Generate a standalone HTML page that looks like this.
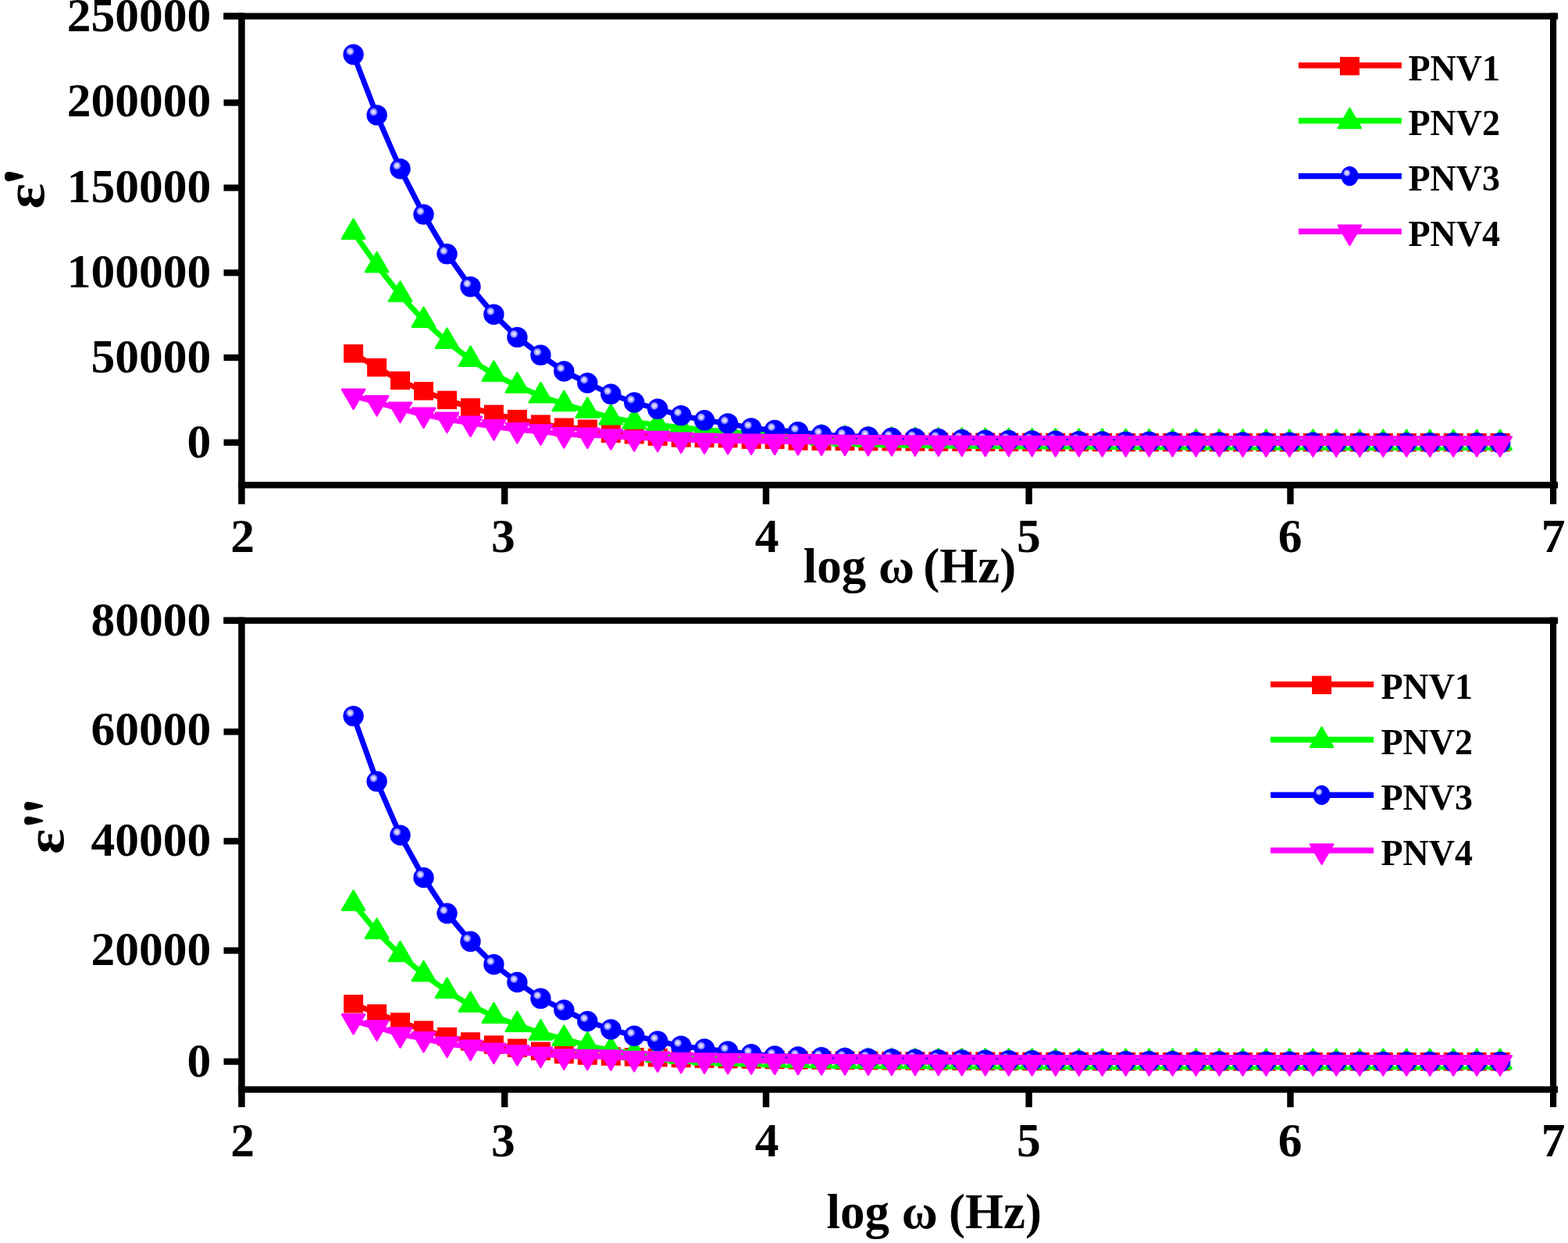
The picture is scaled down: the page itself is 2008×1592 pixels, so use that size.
<!DOCTYPE html>
<html><head><meta charset="utf-8"><title>Dielectric constant vs log frequency</title><style>html,body{margin:0;padding:0;background:#fff;overflow:hidden}svg{display:block}</style></head><body>
<svg width="2008" height="1592" viewBox="0 0 2008 1592" font-family="Liberation Serif, Times New Roman, serif" font-weight="bold" font-size="61.5">
<defs><radialGradient id="hl"><stop offset="0" stop-color="#ffffff"/><stop offset="0.25" stop-color="#d0d0ff"/><stop offset="0.6" stop-color="#9a9aff"/><stop offset="1" stop-color="#0000ff" stop-opacity="0"/></radialGradient></defs>
<rect width="2008" height="1592" fill="#ffffff"/>
<g><polyline points="452.6,452.8 482.6,470.6 512.5,487.4 542.5,500.9 572.5,512.4 602.5,521.9 632.4,530.4 662.4,536.6 692.4,543.1 722.3,547.3 752.3,549.3 782.3,555.4 812.2,556.8 842.2,559.1 872.2,561 902.1,561.4 932.1,561.6 962.1,563.1 992.1,563.2 1022,565 1052,565.2 1082,565.4 1111.9,565.6 1141.9,565.8 1171.9,565.9 1201.8,566 1231.8,566.1 1261.8,566.2 1291.8,566.3 1321.7,566.4 1351.7,566.4 1381.7,566.5 1411.6,566.5 1441.6,566.6 1471.6,566.6 1501.6,566.6 1531.5,566.6 1561.5,566.6 1591.5,566.6 1621.4,566.6 1651.4,566.6 1681.4,566.6 1711.3,566.6 1741.3,566.6 1771.3,566.6 1801.2,566.6 1831.2,566.6 1861.2,566.6 1891.2,566.6 1921.1,566.6" fill="none" stroke="#ff0000" stroke-width="7.0" stroke-linejoin="round"/><rect x="440.1" y="441.1" width="25" height="23.5" fill="#ff0000"/><rect x="470.1" y="458.9" width="25" height="23.5" fill="#ff0000"/><rect x="500" y="475.6" width="25" height="23.5" fill="#ff0000"/><rect x="530" y="489.1" width="25" height="23.5" fill="#ff0000"/><rect x="560" y="500.6" width="25" height="23.5" fill="#ff0000"/><rect x="590" y="510.1" width="25" height="23.5" fill="#ff0000"/><rect x="619.9" y="518.6" width="25" height="23.5" fill="#ff0000"/><rect x="649.9" y="524.9" width="25" height="23.5" fill="#ff0000"/><rect x="679.9" y="531.4" width="25" height="23.5" fill="#ff0000"/><rect x="709.8" y="535.5" width="25" height="23.5" fill="#ff0000"/><rect x="739.8" y="537.5" width="25" height="23.5" fill="#ff0000"/><rect x="769.8" y="543.6" width="25" height="23.5" fill="#ff0000"/><rect x="799.7" y="545" width="25" height="23.5" fill="#ff0000"/><rect x="829.7" y="547.4" width="25" height="23.5" fill="#ff0000"/><rect x="859.7" y="549.2" width="25" height="23.5" fill="#ff0000"/><rect x="889.6" y="549.6" width="25" height="23.5" fill="#ff0000"/><rect x="919.6" y="549.9" width="25" height="23.5" fill="#ff0000"/><rect x="949.6" y="551.4" width="25" height="23.5" fill="#ff0000"/><rect x="979.6" y="551.5" width="25" height="23.5" fill="#ff0000"/><rect x="1009.5" y="553.2" width="25" height="23.5" fill="#ff0000"/><rect x="1039.5" y="553.5" width="25" height="23.5" fill="#ff0000"/><rect x="1069.5" y="553.7" width="25" height="23.5" fill="#ff0000"/><rect x="1099.4" y="553.9" width="25" height="23.5" fill="#ff0000"/><rect x="1129.4" y="554" width="25" height="23.5" fill="#ff0000"/><rect x="1159.4" y="554.2" width="25" height="23.5" fill="#ff0000"/><rect x="1189.3" y="554.3" width="25" height="23.5" fill="#ff0000"/><rect x="1219.3" y="554.4" width="25" height="23.5" fill="#ff0000"/><rect x="1249.3" y="554.5" width="25" height="23.5" fill="#ff0000"/><rect x="1279.3" y="554.6" width="25" height="23.5" fill="#ff0000"/><rect x="1309.2" y="554.6" width="25" height="23.5" fill="#ff0000"/><rect x="1339.2" y="554.7" width="25" height="23.5" fill="#ff0000"/><rect x="1369.2" y="554.7" width="25" height="23.5" fill="#ff0000"/><rect x="1399.1" y="554.8" width="25" height="23.5" fill="#ff0000"/><rect x="1429.1" y="554.8" width="25" height="23.5" fill="#ff0000"/><rect x="1459.1" y="554.9" width="25" height="23.5" fill="#ff0000"/><rect x="1489.1" y="554.9" width="25" height="23.5" fill="#ff0000"/><rect x="1519" y="554.9" width="25" height="23.5" fill="#ff0000"/><rect x="1549" y="554.9" width="25" height="23.5" fill="#ff0000"/><rect x="1579" y="554.9" width="25" height="23.5" fill="#ff0000"/><rect x="1608.9" y="554.9" width="25" height="23.5" fill="#ff0000"/><rect x="1638.9" y="554.9" width="25" height="23.5" fill="#ff0000"/><rect x="1668.9" y="554.9" width="25" height="23.5" fill="#ff0000"/><rect x="1698.8" y="554.9" width="25" height="23.5" fill="#ff0000"/><rect x="1728.8" y="554.9" width="25" height="23.5" fill="#ff0000"/><rect x="1758.8" y="554.9" width="25" height="23.5" fill="#ff0000"/><rect x="1788.8" y="554.9" width="25" height="23.5" fill="#ff0000"/><rect x="1818.7" y="554.9" width="25" height="23.5" fill="#ff0000"/><rect x="1848.7" y="554.9" width="25" height="23.5" fill="#ff0000"/><rect x="1878.7" y="554.9" width="25" height="23.5" fill="#ff0000"/><rect x="1908.6" y="554.9" width="25" height="23.5" fill="#ff0000"/><polyline points="452.6,297.6 482.6,340 512.5,377.6 542.5,410.5 572.5,437.6 602.5,460.6 632.4,479.5 662.4,494.3 692.4,507.2 722.3,517.8 752.3,526.4 782.3,535 812.2,540.4 842.2,544.5 872.2,547.5 902.1,550.5 932.1,553 962.1,555.2 992.1,557.2 1022,559 1052,561 1082,562.5 1111.9,563.5 1141.9,564.2 1171.9,564.6 1201.8,565 1231.8,565.3 1261.8,565.6 1291.8,565.8 1321.7,566 1351.7,566.2 1381.7,566.4 1411.6,566.5 1441.6,566.7 1471.6,566.8 1501.6,566.9 1531.5,567 1561.5,567.1 1591.5,567.2 1621.4,567.3 1651.4,567.3 1681.4,567.4 1711.3,567.5 1741.3,567.5 1771.3,567.6 1801.2,567.6 1831.2,567.6 1861.2,567.7 1891.2,567.7 1921.1,567.7" fill="none" stroke="#00ff00" stroke-width="7.0" stroke-linejoin="round"/><path d="M452.6 280.6L467.3 305.8L437.9 305.8Z" fill="#00ff00" stroke="#00ff00" stroke-width="2.4" stroke-linejoin="round"/><path d="M482.6 323L497.3 348.2L467.9 348.2Z" fill="#00ff00" stroke="#00ff00" stroke-width="2.4" stroke-linejoin="round"/><path d="M512.5 360.6L527.2 385.8L497.8 385.8Z" fill="#00ff00" stroke="#00ff00" stroke-width="2.4" stroke-linejoin="round"/><path d="M542.5 393.5L557.2 418.7L527.8 418.7Z" fill="#00ff00" stroke="#00ff00" stroke-width="2.4" stroke-linejoin="round"/><path d="M572.5 420.6L587.2 445.8L557.8 445.8Z" fill="#00ff00" stroke="#00ff00" stroke-width="2.4" stroke-linejoin="round"/><path d="M602.5 443.6L617.2 468.8L587.8 468.8Z" fill="#00ff00" stroke="#00ff00" stroke-width="2.4" stroke-linejoin="round"/><path d="M632.4 462.5L647.1 487.7L617.7 487.7Z" fill="#00ff00" stroke="#00ff00" stroke-width="2.4" stroke-linejoin="round"/><path d="M662.4 477.3L677.1 502.5L647.7 502.5Z" fill="#00ff00" stroke="#00ff00" stroke-width="2.4" stroke-linejoin="round"/><path d="M692.4 490.2L707.1 515.4L677.7 515.4Z" fill="#00ff00" stroke="#00ff00" stroke-width="2.4" stroke-linejoin="round"/><path d="M722.3 500.8L737 526L707.6 526Z" fill="#00ff00" stroke="#00ff00" stroke-width="2.4" stroke-linejoin="round"/><path d="M752.3 509.4L767 534.6L737.6 534.6Z" fill="#00ff00" stroke="#00ff00" stroke-width="2.4" stroke-linejoin="round"/><path d="M782.3 518L797 543.2L767.6 543.2Z" fill="#00ff00" stroke="#00ff00" stroke-width="2.4" stroke-linejoin="round"/><path d="M812.2 523.4L826.9 548.6L797.5 548.6Z" fill="#00ff00" stroke="#00ff00" stroke-width="2.4" stroke-linejoin="round"/><path d="M842.2 527.5L856.9 552.7L827.5 552.7Z" fill="#00ff00" stroke="#00ff00" stroke-width="2.4" stroke-linejoin="round"/><path d="M872.2 530.5L886.9 555.7L857.5 555.7Z" fill="#00ff00" stroke="#00ff00" stroke-width="2.4" stroke-linejoin="round"/><path d="M902.1 533.5L916.9 558.7L887.4 558.7Z" fill="#00ff00" stroke="#00ff00" stroke-width="2.4" stroke-linejoin="round"/><path d="M932.1 536L946.8 561.2L917.4 561.2Z" fill="#00ff00" stroke="#00ff00" stroke-width="2.4" stroke-linejoin="round"/><path d="M962.1 538.2L976.8 563.4L947.4 563.4Z" fill="#00ff00" stroke="#00ff00" stroke-width="2.4" stroke-linejoin="round"/><path d="M992.1 540.2L1006.8 565.4L977.4 565.4Z" fill="#00ff00" stroke="#00ff00" stroke-width="2.4" stroke-linejoin="round"/><path d="M1022 542L1036.7 567.2L1007.3 567.2Z" fill="#00ff00" stroke="#00ff00" stroke-width="2.4" stroke-linejoin="round"/><path d="M1052 544L1066.7 569.2L1037.3 569.2Z" fill="#00ff00" stroke="#00ff00" stroke-width="2.4" stroke-linejoin="round"/><path d="M1082 545.5L1096.7 570.7L1067.3 570.7Z" fill="#00ff00" stroke="#00ff00" stroke-width="2.4" stroke-linejoin="round"/><path d="M1111.9 546.5L1126.6 571.7L1097.2 571.7Z" fill="#00ff00" stroke="#00ff00" stroke-width="2.4" stroke-linejoin="round"/><path d="M1141.9 547.2L1156.6 572.4L1127.2 572.4Z" fill="#00ff00" stroke="#00ff00" stroke-width="2.4" stroke-linejoin="round"/><path d="M1171.9 547.6L1186.6 572.8L1157.2 572.8Z" fill="#00ff00" stroke="#00ff00" stroke-width="2.4" stroke-linejoin="round"/><path d="M1201.8 548L1216.5 573.2L1187.1 573.2Z" fill="#00ff00" stroke="#00ff00" stroke-width="2.4" stroke-linejoin="round"/><path d="M1231.8 548.3L1246.5 573.5L1217.1 573.5Z" fill="#00ff00" stroke="#00ff00" stroke-width="2.4" stroke-linejoin="round"/><path d="M1261.8 548.6L1276.5 573.8L1247.1 573.8Z" fill="#00ff00" stroke="#00ff00" stroke-width="2.4" stroke-linejoin="round"/><path d="M1291.8 548.8L1306.5 574L1277.1 574Z" fill="#00ff00" stroke="#00ff00" stroke-width="2.4" stroke-linejoin="round"/><path d="M1321.7 549L1336.4 574.2L1307 574.2Z" fill="#00ff00" stroke="#00ff00" stroke-width="2.4" stroke-linejoin="round"/><path d="M1351.7 549.2L1366.4 574.4L1337 574.4Z" fill="#00ff00" stroke="#00ff00" stroke-width="2.4" stroke-linejoin="round"/><path d="M1381.7 549.4L1396.4 574.6L1367 574.6Z" fill="#00ff00" stroke="#00ff00" stroke-width="2.4" stroke-linejoin="round"/><path d="M1411.6 549.5L1426.3 574.7L1396.9 574.7Z" fill="#00ff00" stroke="#00ff00" stroke-width="2.4" stroke-linejoin="round"/><path d="M1441.6 549.7L1456.3 574.9L1426.9 574.9Z" fill="#00ff00" stroke="#00ff00" stroke-width="2.4" stroke-linejoin="round"/><path d="M1471.6 549.8L1486.3 575L1456.9 575Z" fill="#00ff00" stroke="#00ff00" stroke-width="2.4" stroke-linejoin="round"/><path d="M1501.6 549.9L1516.3 575.1L1486.9 575.1Z" fill="#00ff00" stroke="#00ff00" stroke-width="2.4" stroke-linejoin="round"/><path d="M1531.5 550L1546.2 575.2L1516.8 575.2Z" fill="#00ff00" stroke="#00ff00" stroke-width="2.4" stroke-linejoin="round"/><path d="M1561.5 550.1L1576.2 575.3L1546.8 575.3Z" fill="#00ff00" stroke="#00ff00" stroke-width="2.4" stroke-linejoin="round"/><path d="M1591.5 550.2L1606.2 575.4L1576.8 575.4Z" fill="#00ff00" stroke="#00ff00" stroke-width="2.4" stroke-linejoin="round"/><path d="M1621.4 550.3L1636.1 575.5L1606.7 575.5Z" fill="#00ff00" stroke="#00ff00" stroke-width="2.4" stroke-linejoin="round"/><path d="M1651.4 550.3L1666.1 575.5L1636.7 575.5Z" fill="#00ff00" stroke="#00ff00" stroke-width="2.4" stroke-linejoin="round"/><path d="M1681.4 550.4L1696.1 575.6L1666.7 575.6Z" fill="#00ff00" stroke="#00ff00" stroke-width="2.4" stroke-linejoin="round"/><path d="M1711.3 550.5L1726 575.7L1696.6 575.7Z" fill="#00ff00" stroke="#00ff00" stroke-width="2.4" stroke-linejoin="round"/><path d="M1741.3 550.5L1756 575.7L1726.6 575.7Z" fill="#00ff00" stroke="#00ff00" stroke-width="2.4" stroke-linejoin="round"/><path d="M1771.3 550.6L1786 575.8L1756.6 575.8Z" fill="#00ff00" stroke="#00ff00" stroke-width="2.4" stroke-linejoin="round"/><path d="M1801.2 550.6L1816 575.8L1786.5 575.8Z" fill="#00ff00" stroke="#00ff00" stroke-width="2.4" stroke-linejoin="round"/><path d="M1831.2 550.6L1845.9 575.8L1816.5 575.8Z" fill="#00ff00" stroke="#00ff00" stroke-width="2.4" stroke-linejoin="round"/><path d="M1861.2 550.7L1875.9 575.9L1846.5 575.9Z" fill="#00ff00" stroke="#00ff00" stroke-width="2.4" stroke-linejoin="round"/><path d="M1891.2 550.7L1905.9 575.9L1876.5 575.9Z" fill="#00ff00" stroke="#00ff00" stroke-width="2.4" stroke-linejoin="round"/><path d="M1921.1 550.7L1935.8 575.9L1906.4 575.9Z" fill="#00ff00" stroke="#00ff00" stroke-width="2.4" stroke-linejoin="round"/><polyline points="452.6,69.8 482.6,147.4 512.5,216.2 542.5,274.6 572.5,325.3 602.5,367.2 632.4,402.7 662.4,431.9 692.4,454.8 722.3,475.5 752.3,490.5 782.3,504.8 812.2,515.5 842.2,523.8 872.2,532.1 902.1,538.3 932.1,542.4 962.1,548.4 992.1,550.9 1022,553.1 1052,557 1082,558.6 1111.9,559.4 1141.9,560.8 1171.9,561.4 1201.8,562 1231.8,563 1261.8,563.6 1291.8,564 1321.7,564.4 1351.7,564.8 1381.7,565.1 1411.6,565.4 1441.6,565.6 1471.6,565.8 1501.6,566 1531.5,566.2 1561.5,566.4 1591.5,566.5 1621.4,566.6 1651.4,566.7 1681.4,566.8 1711.3,566.9 1741.3,567 1771.3,567.1 1801.2,567.1 1831.2,567.2 1861.2,567.2 1891.2,567.3 1921.1,567.3" fill="none" stroke="#0000ff" stroke-width="7.0" stroke-linejoin="round"/><circle cx="452.6" cy="69.8" r="13.2" fill="#0000ff"/><circle cx="448.4" cy="65.8" r="6.3" fill="url(#hl)"/><circle cx="482.6" cy="147.4" r="13.2" fill="#0000ff"/><circle cx="478.4" cy="143.4" r="6.3" fill="url(#hl)"/><circle cx="512.5" cy="216.2" r="13.2" fill="#0000ff"/><circle cx="508.3" cy="212.2" r="6.3" fill="url(#hl)"/><circle cx="542.5" cy="274.6" r="13.2" fill="#0000ff"/><circle cx="538.3" cy="270.6" r="6.3" fill="url(#hl)"/><circle cx="572.5" cy="325.3" r="13.2" fill="#0000ff"/><circle cx="568.3" cy="321.3" r="6.3" fill="url(#hl)"/><circle cx="602.5" cy="367.2" r="13.2" fill="#0000ff"/><circle cx="598.2" cy="363.2" r="6.3" fill="url(#hl)"/><circle cx="632.4" cy="402.7" r="13.2" fill="#0000ff"/><circle cx="628.2" cy="398.7" r="6.3" fill="url(#hl)"/><circle cx="662.4" cy="431.9" r="13.2" fill="#0000ff"/><circle cx="658.2" cy="427.9" r="6.3" fill="url(#hl)"/><circle cx="692.4" cy="454.8" r="13.2" fill="#0000ff"/><circle cx="688.2" cy="450.8" r="6.3" fill="url(#hl)"/><circle cx="722.3" cy="475.5" r="13.2" fill="#0000ff"/><circle cx="718.1" cy="471.5" r="6.3" fill="url(#hl)"/><circle cx="752.3" cy="490.5" r="13.2" fill="#0000ff"/><circle cx="748.1" cy="486.5" r="6.3" fill="url(#hl)"/><circle cx="782.3" cy="504.8" r="13.2" fill="#0000ff"/><circle cx="778.1" cy="500.8" r="6.3" fill="url(#hl)"/><circle cx="812.2" cy="515.5" r="13.2" fill="#0000ff"/><circle cx="808" cy="511.5" r="6.3" fill="url(#hl)"/><circle cx="842.2" cy="523.8" r="13.2" fill="#0000ff"/><circle cx="838" cy="519.8" r="6.3" fill="url(#hl)"/><circle cx="872.2" cy="532.1" r="13.2" fill="#0000ff"/><circle cx="868" cy="528.1" r="6.3" fill="url(#hl)"/><circle cx="902.1" cy="538.3" r="13.2" fill="#0000ff"/><circle cx="897.9" cy="534.3" r="6.3" fill="url(#hl)"/><circle cx="932.1" cy="542.4" r="13.2" fill="#0000ff"/><circle cx="927.9" cy="538.4" r="6.3" fill="url(#hl)"/><circle cx="962.1" cy="548.4" r="13.2" fill="#0000ff"/><circle cx="957.9" cy="544.4" r="6.3" fill="url(#hl)"/><circle cx="992.1" cy="550.9" r="13.2" fill="#0000ff"/><circle cx="987.9" cy="546.9" r="6.3" fill="url(#hl)"/><circle cx="1022" cy="553.1" r="13.2" fill="#0000ff"/><circle cx="1017.8" cy="549.1" r="6.3" fill="url(#hl)"/><circle cx="1052" cy="557" r="13.2" fill="#0000ff"/><circle cx="1047.8" cy="553" r="6.3" fill="url(#hl)"/><circle cx="1082" cy="558.6" r="13.2" fill="#0000ff"/><circle cx="1077.8" cy="554.6" r="6.3" fill="url(#hl)"/><circle cx="1111.9" cy="559.4" r="13.2" fill="#0000ff"/><circle cx="1107.7" cy="555.4" r="6.3" fill="url(#hl)"/><circle cx="1141.9" cy="560.8" r="13.2" fill="#0000ff"/><circle cx="1137.7" cy="556.8" r="6.3" fill="url(#hl)"/><circle cx="1171.9" cy="561.4" r="13.2" fill="#0000ff"/><circle cx="1167.7" cy="557.4" r="6.3" fill="url(#hl)"/><circle cx="1201.8" cy="562" r="13.2" fill="#0000ff"/><circle cx="1197.6" cy="558" r="6.3" fill="url(#hl)"/><circle cx="1231.8" cy="563" r="13.2" fill="#0000ff"/><circle cx="1227.6" cy="559" r="6.3" fill="url(#hl)"/><circle cx="1261.8" cy="563.6" r="13.2" fill="#0000ff"/><circle cx="1257.6" cy="559.6" r="6.3" fill="url(#hl)"/><circle cx="1291.8" cy="564" r="13.2" fill="#0000ff"/><circle cx="1287.6" cy="560" r="6.3" fill="url(#hl)"/><circle cx="1321.7" cy="564.4" r="13.2" fill="#0000ff"/><circle cx="1317.5" cy="560.4" r="6.3" fill="url(#hl)"/><circle cx="1351.7" cy="564.8" r="13.2" fill="#0000ff"/><circle cx="1347.5" cy="560.8" r="6.3" fill="url(#hl)"/><circle cx="1381.7" cy="565.1" r="13.2" fill="#0000ff"/><circle cx="1377.5" cy="561.1" r="6.3" fill="url(#hl)"/><circle cx="1411.6" cy="565.4" r="13.2" fill="#0000ff"/><circle cx="1407.4" cy="561.4" r="6.3" fill="url(#hl)"/><circle cx="1441.6" cy="565.6" r="13.2" fill="#0000ff"/><circle cx="1437.4" cy="561.6" r="6.3" fill="url(#hl)"/><circle cx="1471.6" cy="565.8" r="13.2" fill="#0000ff"/><circle cx="1467.4" cy="561.8" r="6.3" fill="url(#hl)"/><circle cx="1501.6" cy="566" r="13.2" fill="#0000ff"/><circle cx="1497.4" cy="562" r="6.3" fill="url(#hl)"/><circle cx="1531.5" cy="566.2" r="13.2" fill="#0000ff"/><circle cx="1527.3" cy="562.2" r="6.3" fill="url(#hl)"/><circle cx="1561.5" cy="566.4" r="13.2" fill="#0000ff"/><circle cx="1557.3" cy="562.4" r="6.3" fill="url(#hl)"/><circle cx="1591.5" cy="566.5" r="13.2" fill="#0000ff"/><circle cx="1587.3" cy="562.5" r="6.3" fill="url(#hl)"/><circle cx="1621.4" cy="566.6" r="13.2" fill="#0000ff"/><circle cx="1617.2" cy="562.6" r="6.3" fill="url(#hl)"/><circle cx="1651.4" cy="566.7" r="13.2" fill="#0000ff"/><circle cx="1647.2" cy="562.7" r="6.3" fill="url(#hl)"/><circle cx="1681.4" cy="566.8" r="13.2" fill="#0000ff"/><circle cx="1677.2" cy="562.8" r="6.3" fill="url(#hl)"/><circle cx="1711.3" cy="566.9" r="13.2" fill="#0000ff"/><circle cx="1707.1" cy="562.9" r="6.3" fill="url(#hl)"/><circle cx="1741.3" cy="567" r="13.2" fill="#0000ff"/><circle cx="1737.1" cy="563" r="6.3" fill="url(#hl)"/><circle cx="1771.3" cy="567.1" r="13.2" fill="#0000ff"/><circle cx="1767.1" cy="563.1" r="6.3" fill="url(#hl)"/><circle cx="1801.2" cy="567.1" r="13.2" fill="#0000ff"/><circle cx="1797" cy="563.1" r="6.3" fill="url(#hl)"/><circle cx="1831.2" cy="567.2" r="13.2" fill="#0000ff"/><circle cx="1827" cy="563.2" r="6.3" fill="url(#hl)"/><circle cx="1861.2" cy="567.2" r="13.2" fill="#0000ff"/><circle cx="1857" cy="563.2" r="6.3" fill="url(#hl)"/><circle cx="1891.2" cy="567.3" r="13.2" fill="#0000ff"/><circle cx="1887" cy="563.3" r="6.3" fill="url(#hl)"/><circle cx="1921.1" cy="567.3" r="13.2" fill="#0000ff"/><circle cx="1916.9" cy="563.3" r="6.3" fill="url(#hl)"/><polyline points="452.6,506.9 482.6,515.5 512.5,523.9 542.5,530.8 572.5,537 602.5,541.9 632.4,546.4 662.4,550.4 692.4,552.6 722.3,556.4 752.3,556.9 782.3,558.6 812.2,560.6 842.2,561.2 872.2,563 902.1,564 932.1,564.5 962.1,564.8 992.1,565.2 1022,565.5 1052,565.9 1082,566.1 1111.9,566.3 1141.9,566.5 1171.9,566.7 1201.8,566.8 1231.8,566.9 1261.8,567.1 1291.8,567.1 1321.7,567.2 1351.7,567.3 1381.7,567.3 1411.6,567.4 1441.6,567.4 1471.6,567.5 1501.6,567.5 1531.5,567.5 1561.5,567.5 1591.5,567.6 1621.4,567.6 1651.4,567.6 1681.4,567.6 1711.3,567.6 1741.3,567.6 1771.3,567.6 1801.2,567.6 1831.2,567.6 1861.2,567.6 1891.2,567.6 1921.1,567.6" fill="none" stroke="#ff00ff" stroke-width="7.0" stroke-linejoin="round"/><path d="M452.6 523.9L467.3 498.7L437.9 498.7Z" fill="#ff00ff" stroke="#ff00ff" stroke-width="2.4" stroke-linejoin="round"/><path d="M482.6 532.5L497.3 507.3L467.9 507.3Z" fill="#ff00ff" stroke="#ff00ff" stroke-width="2.4" stroke-linejoin="round"/><path d="M512.5 540.9L527.2 515.7L497.8 515.7Z" fill="#ff00ff" stroke="#ff00ff" stroke-width="2.4" stroke-linejoin="round"/><path d="M542.5 547.8L557.2 522.6L527.8 522.6Z" fill="#ff00ff" stroke="#ff00ff" stroke-width="2.4" stroke-linejoin="round"/><path d="M572.5 554L587.2 528.8L557.8 528.8Z" fill="#ff00ff" stroke="#ff00ff" stroke-width="2.4" stroke-linejoin="round"/><path d="M602.5 558.9L617.2 533.7L587.8 533.7Z" fill="#ff00ff" stroke="#ff00ff" stroke-width="2.4" stroke-linejoin="round"/><path d="M632.4 563.4L647.1 538.2L617.7 538.2Z" fill="#ff00ff" stroke="#ff00ff" stroke-width="2.4" stroke-linejoin="round"/><path d="M662.4 567.4L677.1 542.2L647.7 542.2Z" fill="#ff00ff" stroke="#ff00ff" stroke-width="2.4" stroke-linejoin="round"/><path d="M692.4 569.6L707.1 544.4L677.7 544.4Z" fill="#ff00ff" stroke="#ff00ff" stroke-width="2.4" stroke-linejoin="round"/><path d="M722.3 573.4L737 548.2L707.6 548.2Z" fill="#ff00ff" stroke="#ff00ff" stroke-width="2.4" stroke-linejoin="round"/><path d="M752.3 573.9L767 548.7L737.6 548.7Z" fill="#ff00ff" stroke="#ff00ff" stroke-width="2.4" stroke-linejoin="round"/><path d="M782.3 575.6L797 550.4L767.6 550.4Z" fill="#ff00ff" stroke="#ff00ff" stroke-width="2.4" stroke-linejoin="round"/><path d="M812.2 577.6L826.9 552.4L797.5 552.4Z" fill="#ff00ff" stroke="#ff00ff" stroke-width="2.4" stroke-linejoin="round"/><path d="M842.2 578.2L856.9 553L827.5 553Z" fill="#ff00ff" stroke="#ff00ff" stroke-width="2.4" stroke-linejoin="round"/><path d="M872.2 580L886.9 554.8L857.5 554.8Z" fill="#ff00ff" stroke="#ff00ff" stroke-width="2.4" stroke-linejoin="round"/><path d="M902.1 581L916.9 555.8L887.4 555.8Z" fill="#ff00ff" stroke="#ff00ff" stroke-width="2.4" stroke-linejoin="round"/><path d="M932.1 581.5L946.8 556.3L917.4 556.3Z" fill="#ff00ff" stroke="#ff00ff" stroke-width="2.4" stroke-linejoin="round"/><path d="M962.1 581.8L976.8 556.6L947.4 556.6Z" fill="#ff00ff" stroke="#ff00ff" stroke-width="2.4" stroke-linejoin="round"/><path d="M992.1 582.2L1006.8 557L977.4 557Z" fill="#ff00ff" stroke="#ff00ff" stroke-width="2.4" stroke-linejoin="round"/><path d="M1022 582.5L1036.7 557.3L1007.3 557.3Z" fill="#ff00ff" stroke="#ff00ff" stroke-width="2.4" stroke-linejoin="round"/><path d="M1052 582.9L1066.7 557.7L1037.3 557.7Z" fill="#ff00ff" stroke="#ff00ff" stroke-width="2.4" stroke-linejoin="round"/><path d="M1082 583.1L1096.7 557.9L1067.3 557.9Z" fill="#ff00ff" stroke="#ff00ff" stroke-width="2.4" stroke-linejoin="round"/><path d="M1111.9 583.3L1126.6 558.1L1097.2 558.1Z" fill="#ff00ff" stroke="#ff00ff" stroke-width="2.4" stroke-linejoin="round"/><path d="M1141.9 583.5L1156.6 558.3L1127.2 558.3Z" fill="#ff00ff" stroke="#ff00ff" stroke-width="2.4" stroke-linejoin="round"/><path d="M1171.9 583.7L1186.6 558.5L1157.2 558.5Z" fill="#ff00ff" stroke="#ff00ff" stroke-width="2.4" stroke-linejoin="round"/><path d="M1201.8 583.8L1216.5 558.6L1187.1 558.6Z" fill="#ff00ff" stroke="#ff00ff" stroke-width="2.4" stroke-linejoin="round"/><path d="M1231.8 583.9L1246.5 558.7L1217.1 558.7Z" fill="#ff00ff" stroke="#ff00ff" stroke-width="2.4" stroke-linejoin="round"/><path d="M1261.8 584.1L1276.5 558.9L1247.1 558.9Z" fill="#ff00ff" stroke="#ff00ff" stroke-width="2.4" stroke-linejoin="round"/><path d="M1291.8 584.1L1306.5 558.9L1277.1 558.9Z" fill="#ff00ff" stroke="#ff00ff" stroke-width="2.4" stroke-linejoin="round"/><path d="M1321.7 584.2L1336.4 559L1307 559Z" fill="#ff00ff" stroke="#ff00ff" stroke-width="2.4" stroke-linejoin="round"/><path d="M1351.7 584.3L1366.4 559.1L1337 559.1Z" fill="#ff00ff" stroke="#ff00ff" stroke-width="2.4" stroke-linejoin="round"/><path d="M1381.7 584.3L1396.4 559.1L1367 559.1Z" fill="#ff00ff" stroke="#ff00ff" stroke-width="2.4" stroke-linejoin="round"/><path d="M1411.6 584.4L1426.3 559.2L1396.9 559.2Z" fill="#ff00ff" stroke="#ff00ff" stroke-width="2.4" stroke-linejoin="round"/><path d="M1441.6 584.4L1456.3 559.2L1426.9 559.2Z" fill="#ff00ff" stroke="#ff00ff" stroke-width="2.4" stroke-linejoin="round"/><path d="M1471.6 584.5L1486.3 559.3L1456.9 559.3Z" fill="#ff00ff" stroke="#ff00ff" stroke-width="2.4" stroke-linejoin="round"/><path d="M1501.6 584.5L1516.3 559.3L1486.9 559.3Z" fill="#ff00ff" stroke="#ff00ff" stroke-width="2.4" stroke-linejoin="round"/><path d="M1531.5 584.5L1546.2 559.3L1516.8 559.3Z" fill="#ff00ff" stroke="#ff00ff" stroke-width="2.4" stroke-linejoin="round"/><path d="M1561.5 584.5L1576.2 559.3L1546.8 559.3Z" fill="#ff00ff" stroke="#ff00ff" stroke-width="2.4" stroke-linejoin="round"/><path d="M1591.5 584.6L1606.2 559.4L1576.8 559.4Z" fill="#ff00ff" stroke="#ff00ff" stroke-width="2.4" stroke-linejoin="round"/><path d="M1621.4 584.6L1636.1 559.4L1606.7 559.4Z" fill="#ff00ff" stroke="#ff00ff" stroke-width="2.4" stroke-linejoin="round"/><path d="M1651.4 584.6L1666.1 559.4L1636.7 559.4Z" fill="#ff00ff" stroke="#ff00ff" stroke-width="2.4" stroke-linejoin="round"/><path d="M1681.4 584.6L1696.1 559.4L1666.7 559.4Z" fill="#ff00ff" stroke="#ff00ff" stroke-width="2.4" stroke-linejoin="round"/><path d="M1711.3 584.6L1726 559.4L1696.6 559.4Z" fill="#ff00ff" stroke="#ff00ff" stroke-width="2.4" stroke-linejoin="round"/><path d="M1741.3 584.6L1756 559.4L1726.6 559.4Z" fill="#ff00ff" stroke="#ff00ff" stroke-width="2.4" stroke-linejoin="round"/><path d="M1771.3 584.6L1786 559.4L1756.6 559.4Z" fill="#ff00ff" stroke="#ff00ff" stroke-width="2.4" stroke-linejoin="round"/><path d="M1801.2 584.6L1816 559.4L1786.5 559.4Z" fill="#ff00ff" stroke="#ff00ff" stroke-width="2.4" stroke-linejoin="round"/><path d="M1831.2 584.6L1845.9 559.4L1816.5 559.4Z" fill="#ff00ff" stroke="#ff00ff" stroke-width="2.4" stroke-linejoin="round"/><path d="M1861.2 584.6L1875.9 559.4L1846.5 559.4Z" fill="#ff00ff" stroke="#ff00ff" stroke-width="2.4" stroke-linejoin="round"/><path d="M1891.2 584.6L1905.9 559.4L1876.5 559.4Z" fill="#ff00ff" stroke="#ff00ff" stroke-width="2.4" stroke-linejoin="round"/><path d="M1921.1 584.6L1935.8 559.4L1906.4 559.4Z" fill="#ff00ff" stroke="#ff00ff" stroke-width="2.4" stroke-linejoin="round"/></g>
<g><polyline points="452.6,1285.8 482.6,1298.1 512.5,1308.7 542.5,1319.3 572.5,1327.5 602.5,1334 632.4,1338.1 662.4,1342.2 692.4,1346.3 722.3,1350.5 752.3,1352.1 782.3,1353 812.2,1353.9 842.2,1354.7 872.2,1355.4 902.1,1356 932.1,1356.5 962.1,1357 992.1,1357.4 1022,1357.7 1052,1358 1082,1358.3 1111.9,1358.5 1141.9,1358.7 1171.9,1358.8 1201.8,1359 1231.8,1359.1 1261.8,1359.2 1291.8,1359.3 1321.7,1359.3 1351.7,1359.4 1381.7,1359.5 1411.6,1359.5 1441.6,1359.5 1471.6,1359.6 1501.6,1359.6 1531.5,1359.6 1561.5,1359.6 1591.5,1359.6 1621.4,1359.6 1651.4,1359.6 1681.4,1359.6 1711.3,1359.6 1741.3,1359.6 1771.3,1359.6 1801.2,1359.6 1831.2,1359.6 1861.2,1359.6 1891.2,1359.6 1921.1,1359.6" fill="none" stroke="#ff0000" stroke-width="7.0" stroke-linejoin="round"/><rect x="440.1" y="1274" width="25" height="23.5" fill="#ff0000"/><rect x="470.1" y="1286.3" width="25" height="23.5" fill="#ff0000"/><rect x="500" y="1297" width="25" height="23.5" fill="#ff0000"/><rect x="530" y="1307.5" width="25" height="23.5" fill="#ff0000"/><rect x="560" y="1315.8" width="25" height="23.5" fill="#ff0000"/><rect x="590" y="1322.2" width="25" height="23.5" fill="#ff0000"/><rect x="619.9" y="1326.3" width="25" height="23.5" fill="#ff0000"/><rect x="649.9" y="1330.5" width="25" height="23.5" fill="#ff0000"/><rect x="679.9" y="1334.5" width="25" height="23.5" fill="#ff0000"/><rect x="709.8" y="1338.8" width="25" height="23.5" fill="#ff0000"/><rect x="739.8" y="1340.3" width="25" height="23.5" fill="#ff0000"/><rect x="769.8" y="1341.3" width="25" height="23.5" fill="#ff0000"/><rect x="799.7" y="1342.1" width="25" height="23.5" fill="#ff0000"/><rect x="829.7" y="1342.9" width="25" height="23.5" fill="#ff0000"/><rect x="859.7" y="1343.7" width="25" height="23.5" fill="#ff0000"/><rect x="889.6" y="1344.3" width="25" height="23.5" fill="#ff0000"/><rect x="919.6" y="1344.8" width="25" height="23.5" fill="#ff0000"/><rect x="949.6" y="1345.2" width="25" height="23.5" fill="#ff0000"/><rect x="979.6" y="1345.6" width="25" height="23.5" fill="#ff0000"/><rect x="1009.5" y="1346" width="25" height="23.5" fill="#ff0000"/><rect x="1039.5" y="1346.3" width="25" height="23.5" fill="#ff0000"/><rect x="1069.5" y="1346.5" width="25" height="23.5" fill="#ff0000"/><rect x="1099.4" y="1346.7" width="25" height="23.5" fill="#ff0000"/><rect x="1129.4" y="1346.9" width="25" height="23.5" fill="#ff0000"/><rect x="1159.4" y="1347.1" width="25" height="23.5" fill="#ff0000"/><rect x="1189.3" y="1347.2" width="25" height="23.5" fill="#ff0000"/><rect x="1219.3" y="1347.3" width="25" height="23.5" fill="#ff0000"/><rect x="1249.3" y="1347.4" width="25" height="23.5" fill="#ff0000"/><rect x="1279.3" y="1347.5" width="25" height="23.5" fill="#ff0000"/><rect x="1309.2" y="1347.6" width="25" height="23.5" fill="#ff0000"/><rect x="1339.2" y="1347.7" width="25" height="23.5" fill="#ff0000"/><rect x="1369.2" y="1347.7" width="25" height="23.5" fill="#ff0000"/><rect x="1399.1" y="1347.8" width="25" height="23.5" fill="#ff0000"/><rect x="1429.1" y="1347.8" width="25" height="23.5" fill="#ff0000"/><rect x="1459.1" y="1347.8" width="25" height="23.5" fill="#ff0000"/><rect x="1489.1" y="1347.9" width="25" height="23.5" fill="#ff0000"/><rect x="1519" y="1347.9" width="25" height="23.5" fill="#ff0000"/><rect x="1549" y="1347.9" width="25" height="23.5" fill="#ff0000"/><rect x="1579" y="1347.9" width="25" height="23.5" fill="#ff0000"/><rect x="1608.9" y="1347.9" width="25" height="23.5" fill="#ff0000"/><rect x="1638.9" y="1347.9" width="25" height="23.5" fill="#ff0000"/><rect x="1668.9" y="1347.9" width="25" height="23.5" fill="#ff0000"/><rect x="1698.8" y="1347.9" width="25" height="23.5" fill="#ff0000"/><rect x="1728.8" y="1347.9" width="25" height="23.5" fill="#ff0000"/><rect x="1758.8" y="1347.9" width="25" height="23.5" fill="#ff0000"/><rect x="1788.8" y="1347.9" width="25" height="23.5" fill="#ff0000"/><rect x="1818.7" y="1347.9" width="25" height="23.5" fill="#ff0000"/><rect x="1848.7" y="1347.9" width="25" height="23.5" fill="#ff0000"/><rect x="1878.7" y="1347.9" width="25" height="23.5" fill="#ff0000"/><rect x="1908.6" y="1347.9" width="25" height="23.5" fill="#ff0000"/><polyline points="452.6,1157.6 482.6,1193.5 512.5,1222.9 542.5,1248 572.5,1269.7 602.5,1287.4 632.4,1301.6 662.4,1312.7 692.4,1323.3 722.3,1330.5 752.3,1339 782.3,1345.5 812.2,1349 842.2,1351.5 872.2,1353.5 902.1,1355 932.1,1356.3 962.1,1357.2 992.1,1358 1022,1358.6 1052,1359.1 1082,1359.5 1111.9,1359.7 1141.9,1359.8 1171.9,1359.9 1201.8,1360.1 1231.8,1360.2 1261.8,1360.2 1291.8,1360.3 1321.7,1360.4 1351.7,1360.4 1381.7,1360.5 1411.6,1360.5 1441.6,1360.6 1471.6,1360.6 1501.6,1360.6 1531.5,1360.6 1561.5,1360.6 1591.5,1360.6 1621.4,1360.6 1651.4,1360.6 1681.4,1360.6 1711.3,1360.6 1741.3,1360.6 1771.3,1360.6 1801.2,1360.6 1831.2,1360.6 1861.2,1360.6 1891.2,1360.6 1921.1,1360.6" fill="none" stroke="#00ff00" stroke-width="7.0" stroke-linejoin="round"/><path d="M452.6 1140.6L467.3 1165.8L437.9 1165.8Z" fill="#00ff00" stroke="#00ff00" stroke-width="2.4" stroke-linejoin="round"/><path d="M482.6 1176.5L497.3 1201.7L467.9 1201.7Z" fill="#00ff00" stroke="#00ff00" stroke-width="2.4" stroke-linejoin="round"/><path d="M512.5 1205.9L527.2 1231.1L497.8 1231.1Z" fill="#00ff00" stroke="#00ff00" stroke-width="2.4" stroke-linejoin="round"/><path d="M542.5 1231L557.2 1256.2L527.8 1256.2Z" fill="#00ff00" stroke="#00ff00" stroke-width="2.4" stroke-linejoin="round"/><path d="M572.5 1252.7L587.2 1277.9L557.8 1277.9Z" fill="#00ff00" stroke="#00ff00" stroke-width="2.4" stroke-linejoin="round"/><path d="M602.5 1270.4L617.2 1295.6L587.8 1295.6Z" fill="#00ff00" stroke="#00ff00" stroke-width="2.4" stroke-linejoin="round"/><path d="M632.4 1284.6L647.1 1309.8L617.7 1309.8Z" fill="#00ff00" stroke="#00ff00" stroke-width="2.4" stroke-linejoin="round"/><path d="M662.4 1295.7L677.1 1320.9L647.7 1320.9Z" fill="#00ff00" stroke="#00ff00" stroke-width="2.4" stroke-linejoin="round"/><path d="M692.4 1306.3L707.1 1331.5L677.7 1331.5Z" fill="#00ff00" stroke="#00ff00" stroke-width="2.4" stroke-linejoin="round"/><path d="M722.3 1313.5L737 1338.7L707.6 1338.7Z" fill="#00ff00" stroke="#00ff00" stroke-width="2.4" stroke-linejoin="round"/><path d="M752.3 1322L767 1347.2L737.6 1347.2Z" fill="#00ff00" stroke="#00ff00" stroke-width="2.4" stroke-linejoin="round"/><path d="M782.3 1328.5L797 1353.7L767.6 1353.7Z" fill="#00ff00" stroke="#00ff00" stroke-width="2.4" stroke-linejoin="round"/><path d="M812.2 1332L826.9 1357.2L797.5 1357.2Z" fill="#00ff00" stroke="#00ff00" stroke-width="2.4" stroke-linejoin="round"/><path d="M842.2 1334.5L856.9 1359.7L827.5 1359.7Z" fill="#00ff00" stroke="#00ff00" stroke-width="2.4" stroke-linejoin="round"/><path d="M872.2 1336.5L886.9 1361.7L857.5 1361.7Z" fill="#00ff00" stroke="#00ff00" stroke-width="2.4" stroke-linejoin="round"/><path d="M902.1 1338L916.9 1363.2L887.4 1363.2Z" fill="#00ff00" stroke="#00ff00" stroke-width="2.4" stroke-linejoin="round"/><path d="M932.1 1339.3L946.8 1364.5L917.4 1364.5Z" fill="#00ff00" stroke="#00ff00" stroke-width="2.4" stroke-linejoin="round"/><path d="M962.1 1340.2L976.8 1365.4L947.4 1365.4Z" fill="#00ff00" stroke="#00ff00" stroke-width="2.4" stroke-linejoin="round"/><path d="M992.1 1341L1006.8 1366.2L977.4 1366.2Z" fill="#00ff00" stroke="#00ff00" stroke-width="2.4" stroke-linejoin="round"/><path d="M1022 1341.6L1036.7 1366.8L1007.3 1366.8Z" fill="#00ff00" stroke="#00ff00" stroke-width="2.4" stroke-linejoin="round"/><path d="M1052 1342.1L1066.7 1367.3L1037.3 1367.3Z" fill="#00ff00" stroke="#00ff00" stroke-width="2.4" stroke-linejoin="round"/><path d="M1082 1342.5L1096.7 1367.7L1067.3 1367.7Z" fill="#00ff00" stroke="#00ff00" stroke-width="2.4" stroke-linejoin="round"/><path d="M1111.9 1342.7L1126.6 1367.9L1097.2 1367.9Z" fill="#00ff00" stroke="#00ff00" stroke-width="2.4" stroke-linejoin="round"/><path d="M1141.9 1342.8L1156.6 1368L1127.2 1368Z" fill="#00ff00" stroke="#00ff00" stroke-width="2.4" stroke-linejoin="round"/><path d="M1171.9 1342.9L1186.6 1368.1L1157.2 1368.1Z" fill="#00ff00" stroke="#00ff00" stroke-width="2.4" stroke-linejoin="round"/><path d="M1201.8 1343.1L1216.5 1368.3L1187.1 1368.3Z" fill="#00ff00" stroke="#00ff00" stroke-width="2.4" stroke-linejoin="round"/><path d="M1231.8 1343.2L1246.5 1368.4L1217.1 1368.4Z" fill="#00ff00" stroke="#00ff00" stroke-width="2.4" stroke-linejoin="round"/><path d="M1261.8 1343.2L1276.5 1368.4L1247.1 1368.4Z" fill="#00ff00" stroke="#00ff00" stroke-width="2.4" stroke-linejoin="round"/><path d="M1291.8 1343.3L1306.5 1368.5L1277.1 1368.5Z" fill="#00ff00" stroke="#00ff00" stroke-width="2.4" stroke-linejoin="round"/><path d="M1321.7 1343.4L1336.4 1368.6L1307 1368.6Z" fill="#00ff00" stroke="#00ff00" stroke-width="2.4" stroke-linejoin="round"/><path d="M1351.7 1343.4L1366.4 1368.6L1337 1368.6Z" fill="#00ff00" stroke="#00ff00" stroke-width="2.4" stroke-linejoin="round"/><path d="M1381.7 1343.5L1396.4 1368.7L1367 1368.7Z" fill="#00ff00" stroke="#00ff00" stroke-width="2.4" stroke-linejoin="round"/><path d="M1411.6 1343.5L1426.3 1368.7L1396.9 1368.7Z" fill="#00ff00" stroke="#00ff00" stroke-width="2.4" stroke-linejoin="round"/><path d="M1441.6 1343.6L1456.3 1368.8L1426.9 1368.8Z" fill="#00ff00" stroke="#00ff00" stroke-width="2.4" stroke-linejoin="round"/><path d="M1471.6 1343.6L1486.3 1368.8L1456.9 1368.8Z" fill="#00ff00" stroke="#00ff00" stroke-width="2.4" stroke-linejoin="round"/><path d="M1501.6 1343.6L1516.3 1368.8L1486.9 1368.8Z" fill="#00ff00" stroke="#00ff00" stroke-width="2.4" stroke-linejoin="round"/><path d="M1531.5 1343.6L1546.2 1368.8L1516.8 1368.8Z" fill="#00ff00" stroke="#00ff00" stroke-width="2.4" stroke-linejoin="round"/><path d="M1561.5 1343.6L1576.2 1368.8L1546.8 1368.8Z" fill="#00ff00" stroke="#00ff00" stroke-width="2.4" stroke-linejoin="round"/><path d="M1591.5 1343.6L1606.2 1368.8L1576.8 1368.8Z" fill="#00ff00" stroke="#00ff00" stroke-width="2.4" stroke-linejoin="round"/><path d="M1621.4 1343.6L1636.1 1368.8L1606.7 1368.8Z" fill="#00ff00" stroke="#00ff00" stroke-width="2.4" stroke-linejoin="round"/><path d="M1651.4 1343.6L1666.1 1368.8L1636.7 1368.8Z" fill="#00ff00" stroke="#00ff00" stroke-width="2.4" stroke-linejoin="round"/><path d="M1681.4 1343.6L1696.1 1368.8L1666.7 1368.8Z" fill="#00ff00" stroke="#00ff00" stroke-width="2.4" stroke-linejoin="round"/><path d="M1711.3 1343.6L1726 1368.8L1696.6 1368.8Z" fill="#00ff00" stroke="#00ff00" stroke-width="2.4" stroke-linejoin="round"/><path d="M1741.3 1343.6L1756 1368.8L1726.6 1368.8Z" fill="#00ff00" stroke="#00ff00" stroke-width="2.4" stroke-linejoin="round"/><path d="M1771.3 1343.6L1786 1368.8L1756.6 1368.8Z" fill="#00ff00" stroke="#00ff00" stroke-width="2.4" stroke-linejoin="round"/><path d="M1801.2 1343.6L1816 1368.8L1786.5 1368.8Z" fill="#00ff00" stroke="#00ff00" stroke-width="2.4" stroke-linejoin="round"/><path d="M1831.2 1343.6L1845.9 1368.8L1816.5 1368.8Z" fill="#00ff00" stroke="#00ff00" stroke-width="2.4" stroke-linejoin="round"/><path d="M1861.2 1343.6L1875.9 1368.8L1846.5 1368.8Z" fill="#00ff00" stroke="#00ff00" stroke-width="2.4" stroke-linejoin="round"/><path d="M1891.2 1343.6L1905.9 1368.8L1876.5 1368.8Z" fill="#00ff00" stroke="#00ff00" stroke-width="2.4" stroke-linejoin="round"/><path d="M1921.1 1343.6L1935.8 1368.8L1906.4 1368.8Z" fill="#00ff00" stroke="#00ff00" stroke-width="2.4" stroke-linejoin="round"/><polyline points="452.6,917.1 482.6,1000.8 512.5,1069.7 542.5,1124 572.5,1169.8 602.5,1205.8 632.4,1235.2 662.4,1258 692.4,1278.8 722.3,1293.5 752.3,1308 782.3,1318.4 812.2,1326.7 842.2,1333.4 872.2,1339.7 902.1,1343.4 932.1,1346.4 962.1,1350.1 992.1,1352.4 1022,1353.5 1052,1354.3 1082,1354.9 1111.9,1355.6 1141.9,1356.1 1171.9,1356.6 1201.8,1357.1 1231.8,1357.4 1261.8,1357.8 1291.8,1358.1 1321.7,1358.3 1351.7,1358.6 1381.7,1358.8 1411.6,1358.9 1441.6,1359.1 1471.6,1359.2 1501.6,1359.3 1531.5,1359.4 1561.5,1359.5 1591.5,1359.6 1621.4,1359.7 1651.4,1359.8 1681.4,1359.8 1711.3,1359.9 1741.3,1359.9 1771.3,1359.9 1801.2,1360 1831.2,1360 1861.2,1360 1891.2,1360 1921.1,1360" fill="none" stroke="#0000ff" stroke-width="7.0" stroke-linejoin="round"/><circle cx="452.6" cy="917.1" r="13.2" fill="#0000ff"/><circle cx="448.4" cy="913.1" r="6.3" fill="url(#hl)"/><circle cx="482.6" cy="1000.8" r="13.2" fill="#0000ff"/><circle cx="478.4" cy="996.8" r="6.3" fill="url(#hl)"/><circle cx="512.5" cy="1069.7" r="13.2" fill="#0000ff"/><circle cx="508.3" cy="1065.7" r="6.3" fill="url(#hl)"/><circle cx="542.5" cy="1124" r="13.2" fill="#0000ff"/><circle cx="538.3" cy="1120" r="6.3" fill="url(#hl)"/><circle cx="572.5" cy="1169.8" r="13.2" fill="#0000ff"/><circle cx="568.3" cy="1165.8" r="6.3" fill="url(#hl)"/><circle cx="602.5" cy="1205.8" r="13.2" fill="#0000ff"/><circle cx="598.2" cy="1201.8" r="6.3" fill="url(#hl)"/><circle cx="632.4" cy="1235.2" r="13.2" fill="#0000ff"/><circle cx="628.2" cy="1231.2" r="6.3" fill="url(#hl)"/><circle cx="662.4" cy="1258" r="13.2" fill="#0000ff"/><circle cx="658.2" cy="1254" r="6.3" fill="url(#hl)"/><circle cx="692.4" cy="1278.8" r="13.2" fill="#0000ff"/><circle cx="688.2" cy="1274.8" r="6.3" fill="url(#hl)"/><circle cx="722.3" cy="1293.5" r="13.2" fill="#0000ff"/><circle cx="718.1" cy="1289.5" r="6.3" fill="url(#hl)"/><circle cx="752.3" cy="1308" r="13.2" fill="#0000ff"/><circle cx="748.1" cy="1304" r="6.3" fill="url(#hl)"/><circle cx="782.3" cy="1318.4" r="13.2" fill="#0000ff"/><circle cx="778.1" cy="1314.4" r="6.3" fill="url(#hl)"/><circle cx="812.2" cy="1326.7" r="13.2" fill="#0000ff"/><circle cx="808" cy="1322.7" r="6.3" fill="url(#hl)"/><circle cx="842.2" cy="1333.4" r="13.2" fill="#0000ff"/><circle cx="838" cy="1329.4" r="6.3" fill="url(#hl)"/><circle cx="872.2" cy="1339.7" r="13.2" fill="#0000ff"/><circle cx="868" cy="1335.7" r="6.3" fill="url(#hl)"/><circle cx="902.1" cy="1343.4" r="13.2" fill="#0000ff"/><circle cx="897.9" cy="1339.4" r="6.3" fill="url(#hl)"/><circle cx="932.1" cy="1346.4" r="13.2" fill="#0000ff"/><circle cx="927.9" cy="1342.4" r="6.3" fill="url(#hl)"/><circle cx="962.1" cy="1350.1" r="13.2" fill="#0000ff"/><circle cx="957.9" cy="1346.1" r="6.3" fill="url(#hl)"/><circle cx="992.1" cy="1352.4" r="13.2" fill="#0000ff"/><circle cx="987.9" cy="1348.4" r="6.3" fill="url(#hl)"/><circle cx="1022" cy="1353.5" r="13.2" fill="#0000ff"/><circle cx="1017.8" cy="1349.5" r="6.3" fill="url(#hl)"/><circle cx="1052" cy="1354.3" r="13.2" fill="#0000ff"/><circle cx="1047.8" cy="1350.3" r="6.3" fill="url(#hl)"/><circle cx="1082" cy="1354.9" r="13.2" fill="#0000ff"/><circle cx="1077.8" cy="1350.9" r="6.3" fill="url(#hl)"/><circle cx="1111.9" cy="1355.6" r="13.2" fill="#0000ff"/><circle cx="1107.7" cy="1351.6" r="6.3" fill="url(#hl)"/><circle cx="1141.9" cy="1356.1" r="13.2" fill="#0000ff"/><circle cx="1137.7" cy="1352.1" r="6.3" fill="url(#hl)"/><circle cx="1171.9" cy="1356.6" r="13.2" fill="#0000ff"/><circle cx="1167.7" cy="1352.6" r="6.3" fill="url(#hl)"/><circle cx="1201.8" cy="1357.1" r="13.2" fill="#0000ff"/><circle cx="1197.6" cy="1353.1" r="6.3" fill="url(#hl)"/><circle cx="1231.8" cy="1357.4" r="13.2" fill="#0000ff"/><circle cx="1227.6" cy="1353.4" r="6.3" fill="url(#hl)"/><circle cx="1261.8" cy="1357.8" r="13.2" fill="#0000ff"/><circle cx="1257.6" cy="1353.8" r="6.3" fill="url(#hl)"/><circle cx="1291.8" cy="1358.1" r="13.2" fill="#0000ff"/><circle cx="1287.6" cy="1354.1" r="6.3" fill="url(#hl)"/><circle cx="1321.7" cy="1358.3" r="13.2" fill="#0000ff"/><circle cx="1317.5" cy="1354.3" r="6.3" fill="url(#hl)"/><circle cx="1351.7" cy="1358.6" r="13.2" fill="#0000ff"/><circle cx="1347.5" cy="1354.6" r="6.3" fill="url(#hl)"/><circle cx="1381.7" cy="1358.8" r="13.2" fill="#0000ff"/><circle cx="1377.5" cy="1354.8" r="6.3" fill="url(#hl)"/><circle cx="1411.6" cy="1358.9" r="13.2" fill="#0000ff"/><circle cx="1407.4" cy="1354.9" r="6.3" fill="url(#hl)"/><circle cx="1441.6" cy="1359.1" r="13.2" fill="#0000ff"/><circle cx="1437.4" cy="1355.1" r="6.3" fill="url(#hl)"/><circle cx="1471.6" cy="1359.2" r="13.2" fill="#0000ff"/><circle cx="1467.4" cy="1355.2" r="6.3" fill="url(#hl)"/><circle cx="1501.6" cy="1359.3" r="13.2" fill="#0000ff"/><circle cx="1497.4" cy="1355.3" r="6.3" fill="url(#hl)"/><circle cx="1531.5" cy="1359.4" r="13.2" fill="#0000ff"/><circle cx="1527.3" cy="1355.4" r="6.3" fill="url(#hl)"/><circle cx="1561.5" cy="1359.5" r="13.2" fill="#0000ff"/><circle cx="1557.3" cy="1355.5" r="6.3" fill="url(#hl)"/><circle cx="1591.5" cy="1359.6" r="13.2" fill="#0000ff"/><circle cx="1587.3" cy="1355.6" r="6.3" fill="url(#hl)"/><circle cx="1621.4" cy="1359.7" r="13.2" fill="#0000ff"/><circle cx="1617.2" cy="1355.7" r="6.3" fill="url(#hl)"/><circle cx="1651.4" cy="1359.8" r="13.2" fill="#0000ff"/><circle cx="1647.2" cy="1355.8" r="6.3" fill="url(#hl)"/><circle cx="1681.4" cy="1359.8" r="13.2" fill="#0000ff"/><circle cx="1677.2" cy="1355.8" r="6.3" fill="url(#hl)"/><circle cx="1711.3" cy="1359.9" r="13.2" fill="#0000ff"/><circle cx="1707.1" cy="1355.9" r="6.3" fill="url(#hl)"/><circle cx="1741.3" cy="1359.9" r="13.2" fill="#0000ff"/><circle cx="1737.1" cy="1355.9" r="6.3" fill="url(#hl)"/><circle cx="1771.3" cy="1359.9" r="13.2" fill="#0000ff"/><circle cx="1767.1" cy="1355.9" r="6.3" fill="url(#hl)"/><circle cx="1801.2" cy="1360" r="13.2" fill="#0000ff"/><circle cx="1797" cy="1356" r="6.3" fill="url(#hl)"/><circle cx="1831.2" cy="1360" r="13.2" fill="#0000ff"/><circle cx="1827" cy="1356" r="6.3" fill="url(#hl)"/><circle cx="1861.2" cy="1360" r="13.2" fill="#0000ff"/><circle cx="1857" cy="1356" r="6.3" fill="url(#hl)"/><circle cx="1891.2" cy="1360" r="13.2" fill="#0000ff"/><circle cx="1887" cy="1356" r="6.3" fill="url(#hl)"/><circle cx="1921.1" cy="1360" r="13.2" fill="#0000ff"/><circle cx="1916.9" cy="1356" r="6.3" fill="url(#hl)"/><polyline points="452.6,1307.3 482.6,1315.7 512.5,1324.6 542.5,1330.3 572.5,1336.9 602.5,1341 632.4,1345 662.4,1347.5 692.4,1349.9 722.3,1352.6 752.3,1353.2 782.3,1353.6 812.2,1355.2 842.2,1355.6 872.2,1357.2 902.1,1357.7 932.1,1358.1 962.1,1358.5 992.1,1358.8 1022,1359.1 1052,1359.3 1082,1359.5 1111.9,1359.7 1141.9,1359.8 1171.9,1359.9 1201.8,1360 1231.8,1360.1 1261.8,1360.2 1291.8,1360.3 1321.7,1360.3 1351.7,1360.4 1381.7,1360.4 1411.6,1360.5 1441.6,1360.5 1471.6,1360.5 1501.6,1360.5 1531.5,1360.5 1561.5,1360.5 1591.5,1360.5 1621.4,1360.5 1651.4,1360.5 1681.4,1360.5 1711.3,1360.5 1741.3,1360.5 1771.3,1360.5 1801.2,1360.5 1831.2,1360.5 1861.2,1360.5 1891.2,1360.5 1921.1,1360.5" fill="none" stroke="#ff00ff" stroke-width="7.0" stroke-linejoin="round"/><path d="M452.6 1324.3L467.3 1299.1L437.9 1299.1Z" fill="#ff00ff" stroke="#ff00ff" stroke-width="2.4" stroke-linejoin="round"/><path d="M482.6 1332.7L497.3 1307.5L467.9 1307.5Z" fill="#ff00ff" stroke="#ff00ff" stroke-width="2.4" stroke-linejoin="round"/><path d="M512.5 1341.6L527.2 1316.4L497.8 1316.4Z" fill="#ff00ff" stroke="#ff00ff" stroke-width="2.4" stroke-linejoin="round"/><path d="M542.5 1347.3L557.2 1322.1L527.8 1322.1Z" fill="#ff00ff" stroke="#ff00ff" stroke-width="2.4" stroke-linejoin="round"/><path d="M572.5 1353.9L587.2 1328.7L557.8 1328.7Z" fill="#ff00ff" stroke="#ff00ff" stroke-width="2.4" stroke-linejoin="round"/><path d="M602.5 1358L617.2 1332.8L587.8 1332.8Z" fill="#ff00ff" stroke="#ff00ff" stroke-width="2.4" stroke-linejoin="round"/><path d="M632.4 1362L647.1 1336.8L617.7 1336.8Z" fill="#ff00ff" stroke="#ff00ff" stroke-width="2.4" stroke-linejoin="round"/><path d="M662.4 1364.5L677.1 1339.3L647.7 1339.3Z" fill="#ff00ff" stroke="#ff00ff" stroke-width="2.4" stroke-linejoin="round"/><path d="M692.4 1366.9L707.1 1341.7L677.7 1341.7Z" fill="#ff00ff" stroke="#ff00ff" stroke-width="2.4" stroke-linejoin="round"/><path d="M722.3 1369.6L737 1344.4L707.6 1344.4Z" fill="#ff00ff" stroke="#ff00ff" stroke-width="2.4" stroke-linejoin="round"/><path d="M752.3 1370.2L767 1345L737.6 1345Z" fill="#ff00ff" stroke="#ff00ff" stroke-width="2.4" stroke-linejoin="round"/><path d="M782.3 1370.6L797 1345.4L767.6 1345.4Z" fill="#ff00ff" stroke="#ff00ff" stroke-width="2.4" stroke-linejoin="round"/><path d="M812.2 1372.2L826.9 1347L797.5 1347Z" fill="#ff00ff" stroke="#ff00ff" stroke-width="2.4" stroke-linejoin="round"/><path d="M842.2 1372.6L856.9 1347.4L827.5 1347.4Z" fill="#ff00ff" stroke="#ff00ff" stroke-width="2.4" stroke-linejoin="round"/><path d="M872.2 1374.2L886.9 1349L857.5 1349Z" fill="#ff00ff" stroke="#ff00ff" stroke-width="2.4" stroke-linejoin="round"/><path d="M902.1 1374.7L916.9 1349.5L887.4 1349.5Z" fill="#ff00ff" stroke="#ff00ff" stroke-width="2.4" stroke-linejoin="round"/><path d="M932.1 1375.1L946.8 1349.9L917.4 1349.9Z" fill="#ff00ff" stroke="#ff00ff" stroke-width="2.4" stroke-linejoin="round"/><path d="M962.1 1375.5L976.8 1350.3L947.4 1350.3Z" fill="#ff00ff" stroke="#ff00ff" stroke-width="2.4" stroke-linejoin="round"/><path d="M992.1 1375.8L1006.8 1350.6L977.4 1350.6Z" fill="#ff00ff" stroke="#ff00ff" stroke-width="2.4" stroke-linejoin="round"/><path d="M1022 1376.1L1036.7 1350.9L1007.3 1350.9Z" fill="#ff00ff" stroke="#ff00ff" stroke-width="2.4" stroke-linejoin="round"/><path d="M1052 1376.3L1066.7 1351.1L1037.3 1351.1Z" fill="#ff00ff" stroke="#ff00ff" stroke-width="2.4" stroke-linejoin="round"/><path d="M1082 1376.5L1096.7 1351.3L1067.3 1351.3Z" fill="#ff00ff" stroke="#ff00ff" stroke-width="2.4" stroke-linejoin="round"/><path d="M1111.9 1376.7L1126.6 1351.5L1097.2 1351.5Z" fill="#ff00ff" stroke="#ff00ff" stroke-width="2.4" stroke-linejoin="round"/><path d="M1141.9 1376.8L1156.6 1351.6L1127.2 1351.6Z" fill="#ff00ff" stroke="#ff00ff" stroke-width="2.4" stroke-linejoin="round"/><path d="M1171.9 1376.9L1186.6 1351.7L1157.2 1351.7Z" fill="#ff00ff" stroke="#ff00ff" stroke-width="2.4" stroke-linejoin="round"/><path d="M1201.8 1377L1216.5 1351.8L1187.1 1351.8Z" fill="#ff00ff" stroke="#ff00ff" stroke-width="2.4" stroke-linejoin="round"/><path d="M1231.8 1377.1L1246.5 1351.9L1217.1 1351.9Z" fill="#ff00ff" stroke="#ff00ff" stroke-width="2.4" stroke-linejoin="round"/><path d="M1261.8 1377.2L1276.5 1352L1247.1 1352Z" fill="#ff00ff" stroke="#ff00ff" stroke-width="2.4" stroke-linejoin="round"/><path d="M1291.8 1377.3L1306.5 1352.1L1277.1 1352.1Z" fill="#ff00ff" stroke="#ff00ff" stroke-width="2.4" stroke-linejoin="round"/><path d="M1321.7 1377.3L1336.4 1352.1L1307 1352.1Z" fill="#ff00ff" stroke="#ff00ff" stroke-width="2.4" stroke-linejoin="round"/><path d="M1351.7 1377.4L1366.4 1352.2L1337 1352.2Z" fill="#ff00ff" stroke="#ff00ff" stroke-width="2.4" stroke-linejoin="round"/><path d="M1381.7 1377.4L1396.4 1352.2L1367 1352.2Z" fill="#ff00ff" stroke="#ff00ff" stroke-width="2.4" stroke-linejoin="round"/><path d="M1411.6 1377.5L1426.3 1352.3L1396.9 1352.3Z" fill="#ff00ff" stroke="#ff00ff" stroke-width="2.4" stroke-linejoin="round"/><path d="M1441.6 1377.5L1456.3 1352.3L1426.9 1352.3Z" fill="#ff00ff" stroke="#ff00ff" stroke-width="2.4" stroke-linejoin="round"/><path d="M1471.6 1377.5L1486.3 1352.3L1456.9 1352.3Z" fill="#ff00ff" stroke="#ff00ff" stroke-width="2.4" stroke-linejoin="round"/><path d="M1501.6 1377.5L1516.3 1352.3L1486.9 1352.3Z" fill="#ff00ff" stroke="#ff00ff" stroke-width="2.4" stroke-linejoin="round"/><path d="M1531.5 1377.5L1546.2 1352.3L1516.8 1352.3Z" fill="#ff00ff" stroke="#ff00ff" stroke-width="2.4" stroke-linejoin="round"/><path d="M1561.5 1377.5L1576.2 1352.3L1546.8 1352.3Z" fill="#ff00ff" stroke="#ff00ff" stroke-width="2.4" stroke-linejoin="round"/><path d="M1591.5 1377.5L1606.2 1352.3L1576.8 1352.3Z" fill="#ff00ff" stroke="#ff00ff" stroke-width="2.4" stroke-linejoin="round"/><path d="M1621.4 1377.5L1636.1 1352.3L1606.7 1352.3Z" fill="#ff00ff" stroke="#ff00ff" stroke-width="2.4" stroke-linejoin="round"/><path d="M1651.4 1377.5L1666.1 1352.3L1636.7 1352.3Z" fill="#ff00ff" stroke="#ff00ff" stroke-width="2.4" stroke-linejoin="round"/><path d="M1681.4 1377.5L1696.1 1352.3L1666.7 1352.3Z" fill="#ff00ff" stroke="#ff00ff" stroke-width="2.4" stroke-linejoin="round"/><path d="M1711.3 1377.5L1726 1352.3L1696.6 1352.3Z" fill="#ff00ff" stroke="#ff00ff" stroke-width="2.4" stroke-linejoin="round"/><path d="M1741.3 1377.5L1756 1352.3L1726.6 1352.3Z" fill="#ff00ff" stroke="#ff00ff" stroke-width="2.4" stroke-linejoin="round"/><path d="M1771.3 1377.5L1786 1352.3L1756.6 1352.3Z" fill="#ff00ff" stroke="#ff00ff" stroke-width="2.4" stroke-linejoin="round"/><path d="M1801.2 1377.5L1816 1352.3L1786.5 1352.3Z" fill="#ff00ff" stroke="#ff00ff" stroke-width="2.4" stroke-linejoin="round"/><path d="M1831.2 1377.5L1845.9 1352.3L1816.5 1352.3Z" fill="#ff00ff" stroke="#ff00ff" stroke-width="2.4" stroke-linejoin="round"/><path d="M1861.2 1377.5L1875.9 1352.3L1846.5 1352.3Z" fill="#ff00ff" stroke="#ff00ff" stroke-width="2.4" stroke-linejoin="round"/><path d="M1891.2 1377.5L1905.9 1352.3L1876.5 1352.3Z" fill="#ff00ff" stroke="#ff00ff" stroke-width="2.4" stroke-linejoin="round"/><path d="M1921.1 1377.5L1935.8 1352.3L1906.4 1352.3Z" fill="#ff00ff" stroke="#ff00ff" stroke-width="2.4" stroke-linejoin="round"/></g>
<rect x="286.3" y="16.6" width="1708.8" height="8.3"/>
<rect x="305.2" y="617.1" width="1689.8" height="8.3"/>
<rect x="305.2" y="16.6" width="8.5" height="629.1"/>
<rect x="1985" y="16.6" width="8.2" height="629.1"/>
<rect x="286.5" y="16.6" width="24" height="8.3"/>
<rect x="286.5" y="127.4" width="24" height="8.3"/>
<rect x="286.5" y="236.4" width="24" height="8.3"/>
<rect x="286.5" y="345.2" width="24" height="8.3"/>
<rect x="286.5" y="453.9" width="24" height="8.3"/>
<rect x="286.5" y="562.6" width="24" height="8.3"/>
<rect x="642" y="621.3" width="8.4" height="24.5"/>
<rect x="976.8" y="621.3" width="8.4" height="24.5"/>
<rect x="1313.4" y="621.3" width="8.4" height="24.5"/>
<rect x="1648.3" y="621.3" width="8.4" height="24.5"/>
<text x="270.3" y="39.6" text-anchor="end">250000</text>
<text x="270.3" y="148.6" text-anchor="end">200000</text>
<text x="270.3" y="259.4" text-anchor="end">150000</text>
<text x="270.3" y="368.1" text-anchor="end">100000</text>
<text x="270.3" y="477" text-anchor="end">50000</text>
<text x="270.3" y="585.9" text-anchor="end">0</text>
<text x="310.7" y="707.4" text-anchor="middle">2</text>
<text x="644.3" y="707.4" text-anchor="middle">3</text>
<text x="982.2" y="707.4" text-anchor="middle">4</text>
<text x="1317.3" y="707.4" text-anchor="middle">5</text>
<text x="1652.1" y="707.4" text-anchor="middle">6</text>
<text x="1989.1" y="707.4" text-anchor="middle">7</text>
<rect x="286.3" y="790.6" width="1708.8" height="8.3"/>
<rect x="305.2" y="1391.3" width="1689.8" height="8.3"/>
<rect x="305.2" y="790.6" width="8.5" height="627.4"/>
<rect x="1985" y="790.6" width="8.2" height="627.4"/>
<rect x="286.5" y="790.6" width="24" height="8.3"/>
<rect x="286.5" y="933.1" width="24" height="8.3"/>
<rect x="286.5" y="1073.2" width="24" height="8.3"/>
<rect x="286.5" y="1213.3" width="24" height="8.3"/>
<rect x="286.5" y="1355.5" width="24" height="8.3"/>
<rect x="642" y="1395.5" width="8.4" height="22.6"/>
<rect x="976.8" y="1395.5" width="8.4" height="22.6"/>
<rect x="1313.4" y="1395.5" width="8.4" height="22.6"/>
<rect x="1648.3" y="1395.5" width="8.4" height="22.6"/>
<text x="270.3" y="813.6" text-anchor="end">80000</text>
<text x="270.3" y="953.7" text-anchor="end">60000</text>
<text x="270.3" y="1096.1" text-anchor="end">40000</text>
<text x="270.3" y="1236.2" text-anchor="end">20000</text>
<text x="270.3" y="1378.7" text-anchor="end">0</text>
<text x="310.7" y="1481" text-anchor="middle">2</text>
<text x="644.3" y="1481" text-anchor="middle">3</text>
<text x="982.2" y="1481" text-anchor="middle">4</text>
<text x="1317.3" y="1481" text-anchor="middle">5</text>
<text x="1652.1" y="1481" text-anchor="middle">6</text>
<text x="1989.1" y="1481" text-anchor="middle">7</text>
<text x="1028.8" y="746.4" font-size="63">log ω <tspan dx="-4.5">(Hz)</tspan></text>
<text x="1058.4" y="1572.6" font-size="63">log ω <tspan dx="-1.5">(Hz)</tspan></text>
<g transform="translate(56.1,267.6) rotate(-90)"><text transform="scale(1.06,1)" x="0" y="0" font-size="72">ε</text><g transform="translate(30.8,0) scale(1.36,1)"><text x="0" y="4.7" font-size="67.4" font-family="Noto Serif CJK SC, Liberation Serif, serif">'</text></g></g>
<g transform="translate(81.0,1094.0) rotate(-90)"><text transform="scale(1.08,1)" x="0" y="0" font-size="70">ε</text><g transform="translate(33.4,0) scale(1.18,1)"><text x="0" y="5.3" font-size="67.4" font-family="Noto Serif CJK SC, Liberation Serif, serif">'</text></g><g transform="translate(52.3,0) scale(1.18,1)"><text x="0" y="5.3" font-size="67.4" font-family="Noto Serif CJK SC, Liberation Serif, serif">'</text></g></g>
<rect x="1662.9" y="80" width="132" height="7.5" fill="#ff0000"/>
<rect x="1715.9" y="72.9" width="25" height="23.5" fill="#ff0000"/>
<text x="1803.5" y="102.5" font-size="46">PNV1</text>
<rect x="1662.9" y="150.9" width="132" height="7.5" fill="#00ff00"/>
<path d="M1728.4 138.8L1743.1 164L1713.7 164Z" fill="#00ff00" stroke="#00ff00" stroke-width="2.4" stroke-linejoin="round"/>
<text x="1803.5" y="173.4" font-size="46">PNV2</text>
<rect x="1662.9" y="221.8" width="132" height="7.5" fill="#0000ff"/>
<ellipse cx="1728.4" cy="225.5" rx="11" ry="12.6" fill="#0000ff"/><circle cx="1724.8" cy="221.5" r="5.5" fill="url(#hl)"/>
<text x="1803.5" y="244.3" font-size="46">PNV3</text>
<rect x="1662.9" y="292.7" width="132" height="7.5" fill="#ff00ff"/>
<path d="M1728.4 313.8L1743.1 288.6L1713.7 288.6Z" fill="#ff00ff" stroke="#ff00ff" stroke-width="2.4" stroke-linejoin="round"/>
<text x="1803.5" y="315.2" font-size="46">PNV4</text>
<rect x="1627.1" y="872.8" width="132" height="7.5" fill="#ff0000"/>
<rect x="1680.1" y="865.6" width="25" height="23.5" fill="#ff0000"/>
<text x="1768.5" y="895.3" font-size="46">PNV1</text>
<rect x="1627.1" y="943.6" width="132" height="7.5" fill="#00ff00"/>
<path d="M1692.6 931.6L1707.3 956.8L1677.9 956.8Z" fill="#00ff00" stroke="#00ff00" stroke-width="2.4" stroke-linejoin="round"/>
<text x="1768.5" y="966.2" font-size="46">PNV2</text>
<rect x="1627.1" y="1014.5" width="132" height="7.5" fill="#0000ff"/>
<ellipse cx="1692.6" cy="1018.3" rx="11" ry="12.6" fill="#0000ff"/><circle cx="1689" cy="1014.3" r="5.5" fill="url(#hl)"/>
<text x="1768.5" y="1037.1" font-size="46">PNV3</text>
<rect x="1627.1" y="1085.5" width="132" height="7.5" fill="#ff00ff"/>
<path d="M1692.6 1106.6L1707.3 1081.4L1677.9 1081.4Z" fill="#ff00ff" stroke="#ff00ff" stroke-width="2.4" stroke-linejoin="round"/>
<text x="1768.5" y="1108" font-size="46">PNV4</text>
</svg>
</body></html>
